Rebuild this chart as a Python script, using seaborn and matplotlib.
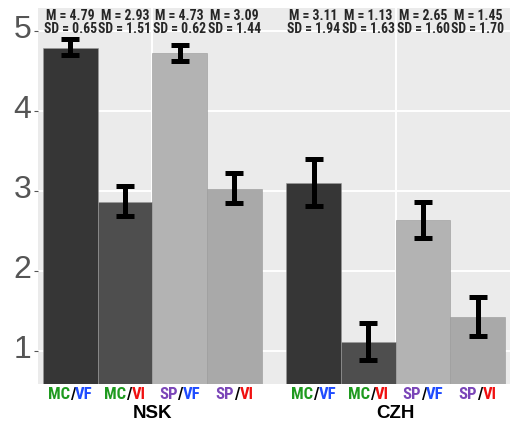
import pandas as pd
import seaborn as sns
import matplotlib
matplotlib.use('Agg')
import matplotlib.pyplot as plt
import matplotlib.transforms as mtransforms
from matplotlib import font_manager
from matplotlib.font_manager import FontProperties

groups = ['NSK', 'CZH']
conds = ['MC/VF', 'MC/VI', 'SP/VF', 'SP/VI']

# bar heights (group x condition)
nsk_mean = [4.79, 2.87, 4.73, 3.03]
czh_mean = [3.10, 1.11, 2.64, 1.43]
nsk_lo = [4.70, 2.69, 4.63, 2.85]
nsk_hi = [4.90, 3.07, 4.83, 3.23]
czh_lo = [2.82, 0.89, 2.42, 1.19]
czh_hi = [3.40, 1.35, 2.87, 1.68]

# annotation texts above bars
nsk_m_txt = ['M = 4.79', 'M = 2.93', 'M = 4.73', 'M = 3.09']
nsk_sd_txt = ['SD = 0.65', 'SD = 1.51', 'SD = 0.62', 'SD = 1.44']
czh_m_txt = ['M = 3.11', 'M = 1.13', 'M = 2.65', 'M = 1.45']
czh_sd_txt = ['SD = 1.94', 'SD = 1.63', 'SD = 1.60', 'SD = 1.70']

bar_colors = ['#363636', '#4e4e4e', '#b3b3b3', '#a9a9a9']
part_colors = {'MC': '#1f9a1f', 'SP': '#7a45b8', 'VF': '#1f4cff', 'VI': '#f01010', '/': 'black'}

df = pd.DataFrame({
    'group': [g for g in groups for _ in conds],
    'cond': conds * 2,
    'mean': nsk_mean + czh_mean,
    'lo': nsk_lo + czh_lo,
    'hi': nsk_hi + czh_hi,
    'mtxt': nsk_m_txt + czh_m_txt,
    'sdtxt': nsk_sd_txt + czh_sd_txt,
})

sns.set_theme(style='darkgrid')
plt.rcParams['font.family'] = ['Liberation Sans', 'DejaVu Sans']


def pick_narrow():
    # look for a condensed bold sans face, else plain bold
    def is_cond(f):
        st = f.stretch
        if isinstance(st, str):
            return 'condensed' in st or 'Narrow' in f.name or 'Condensed' in f.name
        return st <= 87 or 'Narrow' in f.name or 'Condensed' in f.name
    cands = [f for f in font_manager.fontManager.ttflist if is_cond(f)]
    order = ['Liberation Sans Narrow', 'Arial Narrow', 'Roboto Condensed', 'Open Sans Condensed',
             'Noto Sans', 'DejaVu Sans', 'Open Sans', 'Roboto']
    def score(f):
        w = f.weight if isinstance(f.weight, int) else (700 if 'bold' in str(f.weight) else 400)
        name_rank = order.index(f.name) if f.name in order else len(order)
        return (name_rank, abs(w - 700))
    cands = [f for f in cands if 'italic' not in f.style and 'oblique' not in f.style]
    if cands:
        best = sorted(cands, key=score)[0]
        return FontProperties(fname=best.fname)
    return FontProperties(family='Liberation Sans', weight='bold')


narrow = pick_narrow()

fig = plt.figure(figsize=(5.13, 4.23), dpi=100)
ax = fig.add_axes([38 / 513, 39 / 423, 472 / 513, 376 / 423])
ax.set_facecolor('#ebebeb')
renderer = fig.canvas.get_renderer()


def text_width(txt, size):
    t = fig.text(0, 0, txt, fontproperties=narrow, fontsize=size)
    w = t.get_window_extent(renderer).width
    t.remove()
    return w


def fit_size(txt, target_px, max_pt):
    return min(max_pt, max_pt * target_px / text_width(txt, max_pt))


ann_size = fit_size('SD = 0.65', 53, 12)
lab_size = fit_size('MC/VF', 45, 12.5)

sns.barplot(data=df, x='group', y='mean', hue='cond', order=groups, hue_order=conds,
            palette=bar_colors, width=0.9, errorbar=None, ax=ax, legend=False,
            edgecolor='#999999', linewidth=0.4, zorder=2)

ax.set_xlim(-0.47, 1.47)
ax.set_ylim(0.59, 5.29)
ax.set_yticks([1, 2, 3, 4, 5])
ax.grid(True, color='white', lw=1.4, zorder=0)
ax.set_axisbelow(True)
for s in ax.spines.values():
    s.set_visible(False)

ax.tick_params(axis='y', labelsize=23, labelcolor='#555555', length=3, width=0.8,
               color='#555555', pad=2, left=True)
ax.tick_params(axis='x', length=0, pad=15)
ax.set_xticks([0, 1])
ax.set_xticklabels(groups, fontweight='bold', fontsize=13.5, color='black')
ax.set_xlabel('')
ax.set_ylabel('')
up = mtransforms.ScaledTranslation(0, 5 / 100, fig.dpi_scale_trans)
for lbl in ax.get_yticklabels():
    lbl.set_transform(lbl.get_transform() + up)

xt = ax.get_xaxis_transform()
bar_containers = list(ax.containers)
for i, cont in enumerate(bar_containers):
    for j, bar in enumerate(cont):
        row = df[(df.group == groups[j]) & (df.cond == conds[i])].iloc[0]
        cx = bar.get_x() + bar.get_width() / 2
        h = bar.get_height()
        ax.errorbar([cx], [h], yerr=[[h - row.lo], [row.hi - h]], fmt='none',
                    ecolor='black', elinewidth=3.6, capsize=6.2, capthick=3.6, zorder=3)
        ax.text(cx, 0.979, row.mtxt, transform=xt, ha='center',
                va='center', fontsize=ann_size, fontproperties=narrow)
        ax.text(cx, 0.945, row.sdtxt, transform=xt, ha='center',
                va='center', fontsize=ann_size, fontproperties=narrow)
        a, b = conds[i].split('/')
        pieces = [a, '/', b]
        total = text_width(conds[i], lab_size)
        prefix = ''
        for p in pieces:
            prefix += p
            # left edge of each piece = width of text up to it minus its own width
            x0 = text_width(prefix, lab_size) - text_width(p, lab_size) - total / 2
            off = mtransforms.offset_copy(xt, fig=fig, x=x0, y=-3, units='dots')
            ax.text(cx, 0, p, transform=off, ha='left', va='top', color=part_colors[p],
                    fontsize=lab_size, fontproperties=narrow, clip_on=False)

fig.savefig('out.png', dpi=100)
